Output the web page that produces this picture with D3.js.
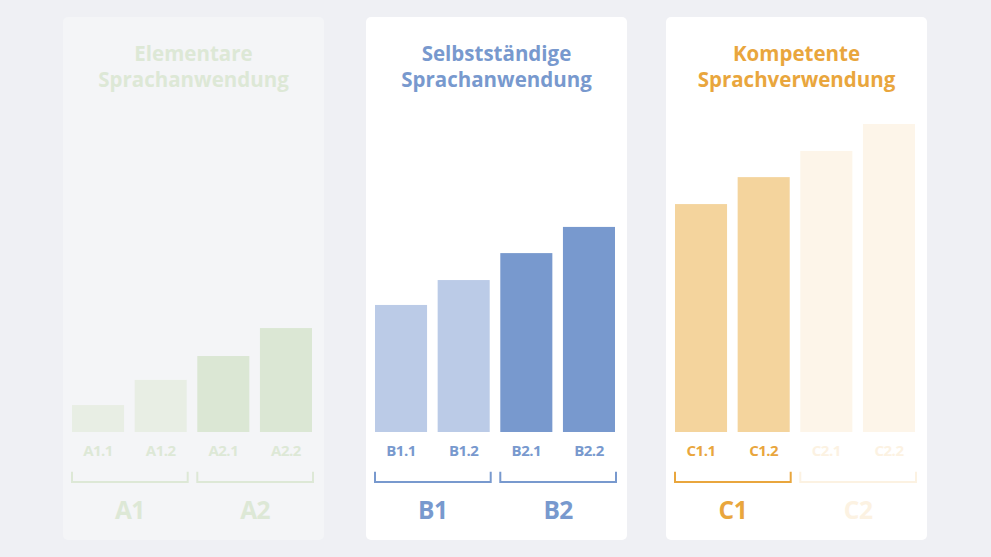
<!DOCTYPE html>
<html><head><meta charset="utf-8">
<script src="https://cdn.jsdelivr.net/npm/d3@7"></script>
<style>html,body{margin:0;padding:0;background:#eff0f4;}svg{display:block;}</style>
</head><body>
<svg id="chart" width="991" height="557"></svg>
<script>
// Data
const panelTitles = [["Elementare","Sprachanwendung"],["Selbstständige","Sprachanwendung"],["Kompetente","Sprachverwendung"]];
const subGroups = [["A1","A2"],["B1","B2"],["C1","C2"]];
const levels = [["A1.1","A1.2","A2.1","A2.2"],["B1.1","B1.2","B2.1","B2.2"],["C1.1","C1.2","C2.1","C2.2"]];
const values = [[1.05,2.03,2.96,4.05],[4.95,5.92,6.97,7.99],[8.88,9.93,10.95,12]];

// Styles
const panelX = [63,366,666];
const panelW = 261, panelY = 17, panelH = 523;
const panelBg = ["#f4f5f7","#ffffff","#ffffff"];
const titleColor = ["#dde8d6","#7899ce","#e9a63d"];
const groupText = [["#dde8d6","#dde8d6"],["#7899ce","#7899ce"],["#e9a63d","#fcf2e2"]];
const barColor = [["#e8eee4","#dbe7d4"],["#bbcbe7","#7899ce"],["#f4d49d","#fdf5e9"]];
const font = "'Open Sans', Lato, sans-serif";

const svg = d3.select("#chart");
svg.append("rect").attr("width",991).attr("height",557).attr("fill","#eff0f4");

const y = d3.scaleLinear().domain([0,12]).range([432,124]);

panelTitles.forEach((title,i)=>{
  const g = svg.append("g").attr("transform",`translate(${panelX[i]},${panelY})`);
  g.append("rect").attr("width",panelW).attr("height",panelH).attr("rx",5).attr("fill",panelBg[i]);
  const cx = panelW/2;
  g.selectAll("text.title").data(title).join("text")
    .attr("x",cx).attr("y",(d,j)=>43.5+j*26.3)
    .attr("text-anchor","middle").attr("font-family",font).attr("font-weight",700)
    .attr("font-size",20.5).attr("fill",titleColor[i]).text(d=>d);

  const x = d3.scaleBand().domain(levels[i]).range([9,249]).paddingInner(0.169).paddingOuter(0);
  const data = levels[i].map((l,k)=>({l,v:values[i][k],grp:k<2?0:1}));
  g.selectAll("rect.bar").data(data).join("rect")
    .attr("x",d=>x(d.l)).attr("width",x.bandwidth())
    .attr("y",d=>y(d.v)-panelY).attr("height",d=>y(0)-y(d.v))
    .attr("fill",d=>barColor[i][d.grp]);

  g.selectAll("text.lvl").data(data).join("text")
    .attr("x",d=>x(d.l)+x.bandwidth()/2).attr("y",451-panelY).attr("dy","0.36em")
    .attr("text-anchor","middle").attr("font-family",font).attr("font-weight",700)
    .attr("font-size",15).attr("letter-spacing",-0.5).attr("fill",d=>groupText[i][d.grp]).text(d=>d.l);

  subGroups[i].forEach((sg,k)=>{
    const x0 = x(levels[i][k*2]), x1 = x(levels[i][k*2+1])+x.bandwidth()+1;
    const top = 471.7-panelY, bot = 482-panelY;
    g.append("path").attr("d",`M${x0},${top}V${bot}H${x1}V${top}`)
      .attr("fill","none").attr("stroke",groupText[i][k]).attr("stroke-width",2);
    g.append("text").attr("x",(x0+x1)/2).attr("y",510-panelY).attr("dy","0.36em")
      .attr("text-anchor","middle").attr("font-family",font).attr("font-weight",700)
      .attr("font-size",24.5).attr("letter-spacing",-0.5).attr("fill",groupText[i][k]).text(sg);
  });
});
</script>
</body></html>
